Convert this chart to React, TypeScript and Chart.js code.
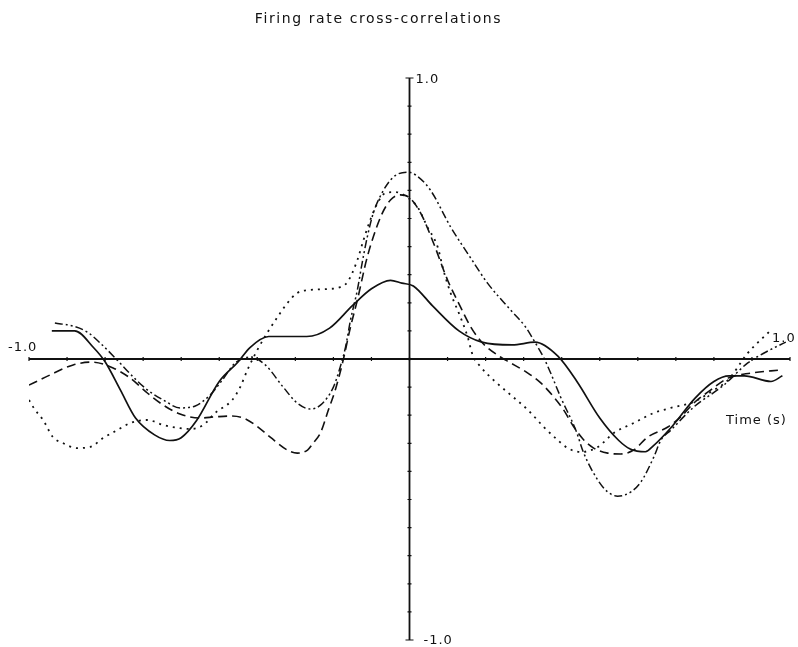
import { useEffect, useRef } from "react";
import { Chart, registerables } from "chart.js";

Chart.register(...registerables);

const title = "Firing rate cross-correlations";
const xAxisLabel = "Time (s)";
const xTicks = [-1, -0.9, -0.8, -0.7, -0.6, -0.5, -0.4, -0.3, -0.2, -0.1, 0, 0.1, 0.2, 0.3, 0.4, 0.5, 0.6, 0.7, 0.8, 0.9, 1];
const yTicks = [-1, -0.9, -0.8, -0.7, -0.6, -0.5, -0.4, -0.3, -0.2, -0.1, 0, 0.1, 0.2, 0.3, 0.4, 0.5, 0.6, 0.7, 0.8, 0.9, 1];

// Solid curve: time (s) and correlation
const solidX = [-0.94, -0.88, -0.83, -0.8, -0.76, -0.72, -0.67, -0.63, -0.6, -0.56, -0.5, -0.45, -0.42, -0.37, -0.33, -0.27, -0.21, -0.15, -0.1, -0.05, -0.02, 0.01, 0.06, 0.13, 0.19, 0.27, 0.33, 0.39, 0.44, 0.5, 0.55, 0.58, 0.62, 0.64, 0.69, 0.75, 0.8, 0.84, 0.88, 0.95, 0.98];
const solidY = [0.1, 0.1, 0.04, -0.01, -0.11, -0.21, -0.27, -0.29, -0.28, -0.22, -0.08, -0.01, 0.04, 0.08, 0.08, 0.08, 0.11, 0.19, 0.25, 0.28, 0.27, 0.26, 0.19, 0.1, 0.06, 0.05, 0.06, 0.01, -0.08, -0.21, -0.29, -0.32, -0.33, -0.31, -0.24, -0.14, -0.08, -0.06, -0.06, -0.08, -0.06];

// Dashed curve
const dashedX = [-1.0, -0.945, -0.884, -0.834, -0.779, -0.734, -0.689, -0.647, -0.603, -0.55, -0.511, -0.471, -0.437, -0.405, -0.366, -0.321, -0.295, -0.268, -0.253, -0.234, -0.213, -0.195, -0.176, -0.155, -0.137, -0.111, -0.076, -0.05, -0.024, -0.003, 0.029, 0.063, 0.1, 0.129, 0.161, 0.192, 0.239, 0.266, 0.311, 0.345, 0.379, 0.405, 0.432, 0.458, 0.484, 0.521, 0.555, 0.589, 0.626, 0.679, 0.713, 0.747, 0.792, 0.837, 0.897, 0.976];
const dashedY = [-0.093, -0.057, -0.021, -0.011, -0.032, -0.068, -0.121, -0.164, -0.196, -0.21, -0.206, -0.203, -0.21, -0.235, -0.278, -0.324, -0.335, -0.324, -0.299, -0.263, -0.181, -0.11, -0.014, 0.114, 0.21, 0.363, 0.505, 0.566, 0.584, 0.577, 0.52, 0.413, 0.281, 0.199, 0.114, 0.057, 0.007, -0.014, -0.05, -0.085, -0.135, -0.181, -0.242, -0.288, -0.317, -0.335, -0.338, -0.324, -0.278, -0.242, -0.206, -0.157, -0.11, -0.068, -0.05, -0.039];

// Dotted curve
const dottedX = [-1.0, -0.984, -0.963, -0.937, -0.911, -0.874, -0.839, -0.805, -0.768, -0.734, -0.689, -0.647, -0.603, -0.576, -0.542, -0.511, -0.466, -0.445, -0.426, -0.4, -0.374, -0.347, -0.321, -0.295, -0.261, -0.216, -0.182, -0.163, -0.137, -0.121, -0.103, -0.084, -0.063, -0.037, -0.011, 0.021, 0.047, 0.074, 0.089, 0.108, 0.134, 0.153, 0.166, 0.187, 0.221, 0.266, 0.311, 0.353, 0.389, 0.416, 0.45, 0.495, 0.537, 0.589, 0.642, 0.687, 0.747, 0.792, 0.837, 0.889, 0.95];
const dottedY = [-0.146, -0.181, -0.217, -0.278, -0.299, -0.317, -0.313, -0.281, -0.253, -0.228, -0.217, -0.235, -0.246, -0.249, -0.235, -0.192, -0.146, -0.1, -0.039, 0.032, 0.093, 0.149, 0.199, 0.235, 0.246, 0.249, 0.256, 0.274, 0.352, 0.423, 0.495, 0.555, 0.591, 0.594, 0.58, 0.541, 0.47, 0.399, 0.317, 0.235, 0.149, 0.078, 0.014, -0.028, -0.075, -0.128, -0.181, -0.242, -0.288, -0.317, -0.331, -0.313, -0.263, -0.228, -0.192, -0.174, -0.153, -0.117, -0.075, 0.021, 0.103];

// Dash-dot-dot curve
const dashDotDotX = [-0.932, -0.884, -0.847, -0.813, -0.768, -0.726, -0.689, -0.647, -0.603, -0.563, -0.524, -0.492, -0.458, -0.418, -0.379, -0.332, -0.295, -0.261, -0.234, -0.2, -0.182, -0.168, -0.155, -0.137, -0.124, -0.111, -0.095, -0.071, -0.042, -0.005, 0.016, 0.055, 0.108, 0.161, 0.205, 0.266, 0.305, 0.326, 0.353, 0.371, 0.397, 0.437, 0.458, 0.495, 0.521, 0.547, 0.582, 0.608, 0.642, 0.661, 0.687, 0.747, 0.826, 0.889, 0.937, 0.989];
const dashDotDotY = [0.128, 0.117, 0.096, 0.057, -0.004, -0.064, -0.11, -0.146, -0.174, -0.167, -0.128, -0.075, -0.014, 0.007, -0.021, -0.1, -0.157, -0.178, -0.164, -0.1, -0.028, 0.043, 0.139, 0.246, 0.345, 0.434, 0.52, 0.594, 0.648, 0.665, 0.655, 0.601, 0.47, 0.359, 0.27, 0.174, 0.114, 0.068, 0.004, -0.05, -0.135, -0.253, -0.335, -0.431, -0.473, -0.488, -0.473, -0.438, -0.349, -0.288, -0.253, -0.171, -0.093, -0.014, 0.025, 0.06];

const toPoints = (xs: number[], ys: number[]) => xs.map((x, i) => ({ x, y: ys[i] }));

const axesPlugin = {
  id: "centerAxes",
  afterDatasetsDraw(chart: any) {
    const { ctx } = chart;
    const xs = chart.scales.x;
    const ys = chart.scales.y;
    const x0 = xs.getPixelForValue(0);
    const y0 = ys.getPixelForValue(0);
    ctx.save();
    ctx.strokeStyle = "#111";
    ctx.lineWidth = 1.8;
    ctx.beginPath();
    ctx.moveTo(xs.getPixelForValue(-1), y0);
    ctx.lineTo(xs.getPixelForValue(1), y0);
    ctx.moveTo(x0, ys.getPixelForValue(1));
    ctx.lineTo(x0, ys.getPixelForValue(-1));
    ctx.stroke();
    ctx.lineWidth = 1.2;
    ctx.beginPath();
    xTicks.forEach((t) => {
      const px = xs.getPixelForValue(t);
      ctx.moveTo(px, y0 - 2);
      ctx.lineTo(px, y0 + 2);
    });
    yTicks.forEach((t) => {
      const py = ys.getPixelForValue(t);
      const w = Math.abs(t) === 1 ? 4 : 2;
      ctx.moveTo(x0 - w, py);
      ctx.lineTo(x0 + w, py);
    });
    ctx.stroke();

    ctx.fillStyle = "#111";
    ctx.font = "13px 'DejaVu Sans'";
    (ctx as any).letterSpacing = "1px";
    ctx.textBaseline = "middle";
    ctx.textAlign = "left";
    ctx.fillText("-1.0", xs.getPixelForValue(-1) - 21, y0 - 11);
    ctx.fillText("1.0", xs.getPixelForValue(1) - 18, y0 - 20);
    ctx.fillText("1.0", x0 + 6, ys.getPixelForValue(1) + 2);
    ctx.fillText("-1.0", x0 + 14, ys.getPixelForValue(-1) + 1);
    ctx.fillText(xAxisLabel, xs.getPixelForValue(1) - 64, y0 + 62);

    ctx.font = "14px 'DejaVu Sans'";
    (ctx as any).letterSpacing = "1.6px";
    ctx.textAlign = "center";
    ctx.fillText(title, x0 - 31, 19);
    ctx.restore();
  },
};

export default function App() {
  const ref = useRef<HTMLCanvasElement | null>(null);
  useEffect(() => {
    document.body.style.margin = "0";
    document.body.style.background = "#fff";
    const line = (data: any, dash: number[], width: number) => ({
      data,
      borderColor: "#111",
      borderWidth: width,
      borderDash: dash,
      pointRadius: 0,
      cubicInterpolationMode: "monotone" as const,
      fill: false,
    });
    const chart = new Chart(ref.current as HTMLCanvasElement, {
      type: "line",
      data: {
        datasets: [
          line(toPoints(solidX, solidY), [], 1.7),
          line(toPoints(dashedX, dashedY), [9, 5], 1.6),
          line(toPoints(dottedX, dottedY), [2, 5], 1.8),
          line(toPoints(dashDotDotX, dashDotDotY), [8, 3, 2, 3, 2, 3], 1.5),
        ],
      },
      options: {
        animation: false,
        responsive: false,
        maintainAspectRatio: false,
        layout: { padding: { left: 29, right: 8, top: 78, bottom: 7 } },
        plugins: { legend: { display: false }, title: { display: false }, tooltip: { enabled: false } },
        scales: {
          x: { type: "linear", min: -1, max: 1, display: false },
          y: { type: "linear", min: -1, max: 1, display: false },
        },
      },
      plugins: [axesPlugin],
    });
    return () => chart.destroy();
  }, []);
  return <canvas ref={ref} width={798} height={647} style={{ display: "block" }} />;
}
